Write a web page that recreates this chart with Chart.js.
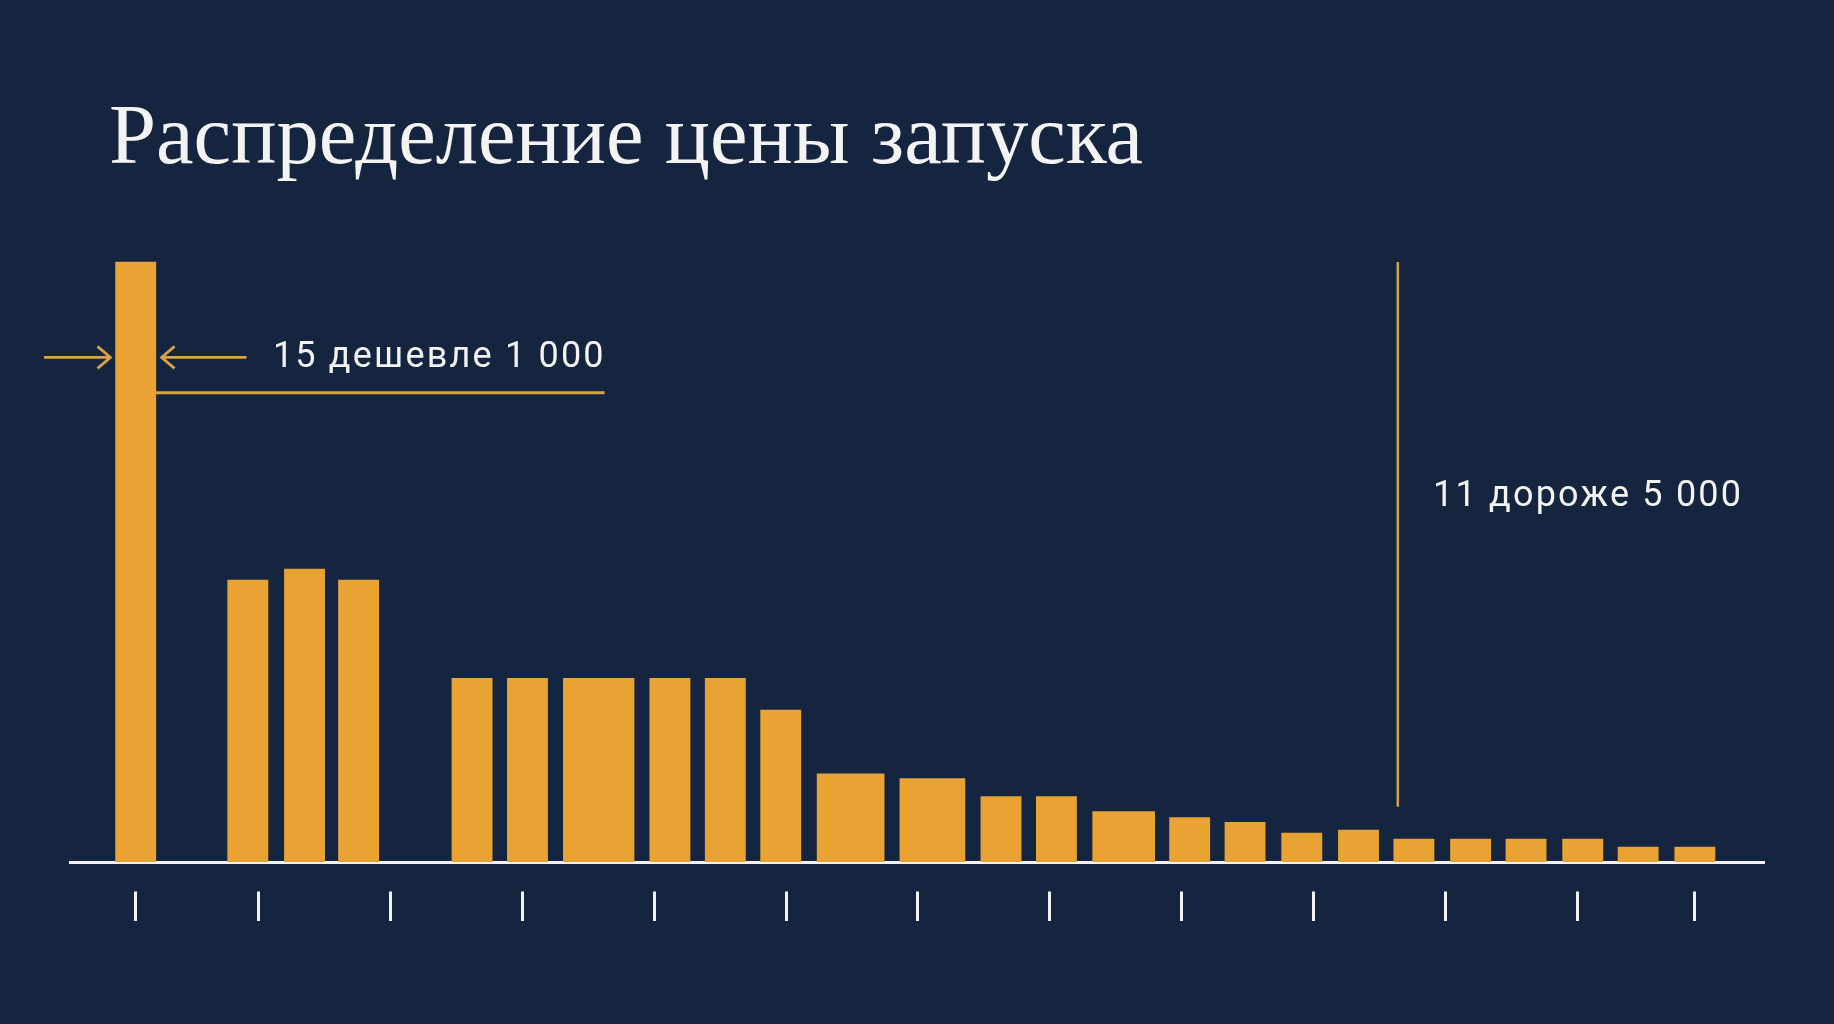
<!DOCTYPE html>
<html><head><meta charset="utf-8">
<script src="https://cdn.jsdelivr.net/npm/chart.js@4.4.1/dist/chart.umd.min.js"></script>
<style>html,body{margin:0;padding:0;background:#15253f;overflow:hidden}canvas{display:block}</style>
</head><body>
<canvas id="c" width="1834" height="1024"></canvas>
<script>
// ---- data (x in axis units, one unit = one tick interval) ----
const titleText = 'Распределение цены запуска';
const barX = [0.07, 0.92, 1.35, 1.76, 2.62, 3.04, 3.58, 4.12, 4.54, 4.96, 5.49, 6.11, 6.63,
              7.05, 7.56, 8.06, 8.48, 8.91, 9.34, 9.76, 10.19, 10.61, 11.04, 11.46, 11.89];
const barValues = [100, 47.0, 48.8, 47.0, 30.6, 30.6, 30.6, 30.6, 30.6, 25.3, 14.7, 13.9, 10.9,
                   10.9, 8.4, 7.4, 6.6, 4.8, 5.3, 3.8, 3.8, 3.8, 3.8, 2.5, 2.5];
const barWidths = [0.305, 0.305, 0.305, 0.305, 0.305, 0.305, 0.536, 0.305, 0.305, 0.305, 0.508, 0.493, 0.305,
                   0.305, 0.470, 0.305, 0.305, 0.305, 0.305, 0.305, 0.305, 0.305, 0.305, 0.305, 0.305];
const tickValues = [0.07, 1, 2, 3, 4, 5, 6, 7, 8, 9, 10, 11, 11.89];
const xRange = [-0.428, 12.414];
const yMax = 110;

// annotations (data units)
const cheapNote = {text: '15 дешевле 1 000', x: 1.11, y: 82.55};
const cheapLine = {x1: 0.22, x2: 3.625, y: 78.2};
const cheapArrows = [{from: -0.625, to: -0.121, y: 84.1}, {from: 0.91, to: 0.266, y: 84.1}];
const expNote = {text: '11 дороже 5 000', x: 9.905, y: 59.4};
const expLine = {x: 9.638, y1: 100, y2: 9.2};

// ---- colours ----
const BG = '#15253f', BAR = '#e8a334', ANN = '#d9a246', TXT = '#f3f3f3';

// group bars by width into datasets
const groups = {};
barX.forEach((x, i) => {
  const w = barWidths[i];
  (groups[w] = groups[w] || []).push({x: x, y: barValues[i]});
});
const datasets = Object.keys(groups).map(w => ({
  data: groups[w], _w: parseFloat(w), backgroundColor: BAR, borderWidth: 0,
  stack: 'bars', skipNull: true, borderSkipped: false
}));

const bgPlugin = {
  id: 'bg',
  beforeDraw(chart) {
    const c = chart.ctx;
    c.save(); c.fillStyle = BG; c.fillRect(0, 0, chart.width, chart.height); c.restore();
  }
};

const annPlugin = {
  id: 'ann',
  afterDatasetsDraw(chart) {
    const c = chart.ctx, xs = chart.scales.x, ys = chart.scales.y;
    const px = v => xs.getPixelForValue(v), py = v => ys.getPixelForValue(v);
    c.save();
    // title
    c.fillStyle = TXT;
    c.font = '84.6px "Liberation Serif", serif';
    c.textBaseline = 'alphabetic';
    c.textAlign = 'left';
    c.fillText(titleText, 109, 163);
    // lines
    c.strokeStyle = ANN; c.lineCap = 'butt';
    c.lineWidth = 3;
    c.beginPath(); c.moveTo(px(cheapLine.x1), py(cheapLine.y)); c.lineTo(px(cheapLine.x2), py(cheapLine.y)); c.stroke();
    c.lineWidth = 2.5;
    c.beginPath(); c.moveTo(px(expLine.x), py(expLine.y1)); c.lineTo(px(expLine.x), py(expLine.y2)); c.stroke();
    // arrows
    c.lineWidth = 2.7; c.lineJoin = 'miter';
    cheapArrows.forEach(a => {
      const x0 = px(a.from), x1 = px(a.to), y = py(a.y), d = Math.sign(x1 - x0);
      c.beginPath(); c.moveTo(x0, y); c.lineTo(x1, y);
      c.moveTo(x1 - d * 13, y - 11); c.lineTo(x1, y); c.lineTo(x1 - d * 13, y + 11);
      c.stroke();
    });
    // notes
    c.fillStyle = TXT;
    c.font = '36px Roboto, sans-serif';
    c.letterSpacing = '2.2px';
    c.textBaseline = 'alphabetic';
    c.fillText(cheapNote.text, px(cheapNote.x), py(cheapNote.y));
    c.fillText(expNote.text, px(expNote.x), py(expNote.y));
    c.restore();
  }
};

const chart = new Chart(document.getElementById('c'), {
  type: 'bar',
  data: {datasets},
  options: {
    responsive: false, animation: false, devicePixelRatio: 1,
    layout: {padding: {left: 70, right: 70, top: 202, bottom: 103}},
    plugins: {legend: {display: false}, tooltip: {enabled: false}, title: {display: false}},
    scales: {
      x: {
        type: 'linear', min: xRange[0], max: xRange[1], stacked: true, offset: false,
        afterBuildTicks: s => { s.ticks = tickValues.map(v => ({value: v})); },
        ticks: {display: false},
        grid: {display: true, offset: false, drawOnChartArea: false, drawTicks: true, tickLength: 59,
               tickColor: '#f3f3f3', tickWidth: 3, tickBorderDash: [30, 27.5], tickBorderDashOffset: 30},
        border: {display: true, color: '#f3f3f3', width: 3}
      },
      y: {display: false, min: 0, max: yMax, stacked: false}
    }
  },
  plugins: [bgPlugin, annPlugin]
});

// bar thickness from axis units
const ppu = Math.abs(chart.scales.x.getPixelForValue(1) - chart.scales.x.getPixelForValue(0));
chart.data.datasets.forEach(ds => { ds.barThickness = ds._w * ppu; });
chart.update('none');
</script>
</body></html>
